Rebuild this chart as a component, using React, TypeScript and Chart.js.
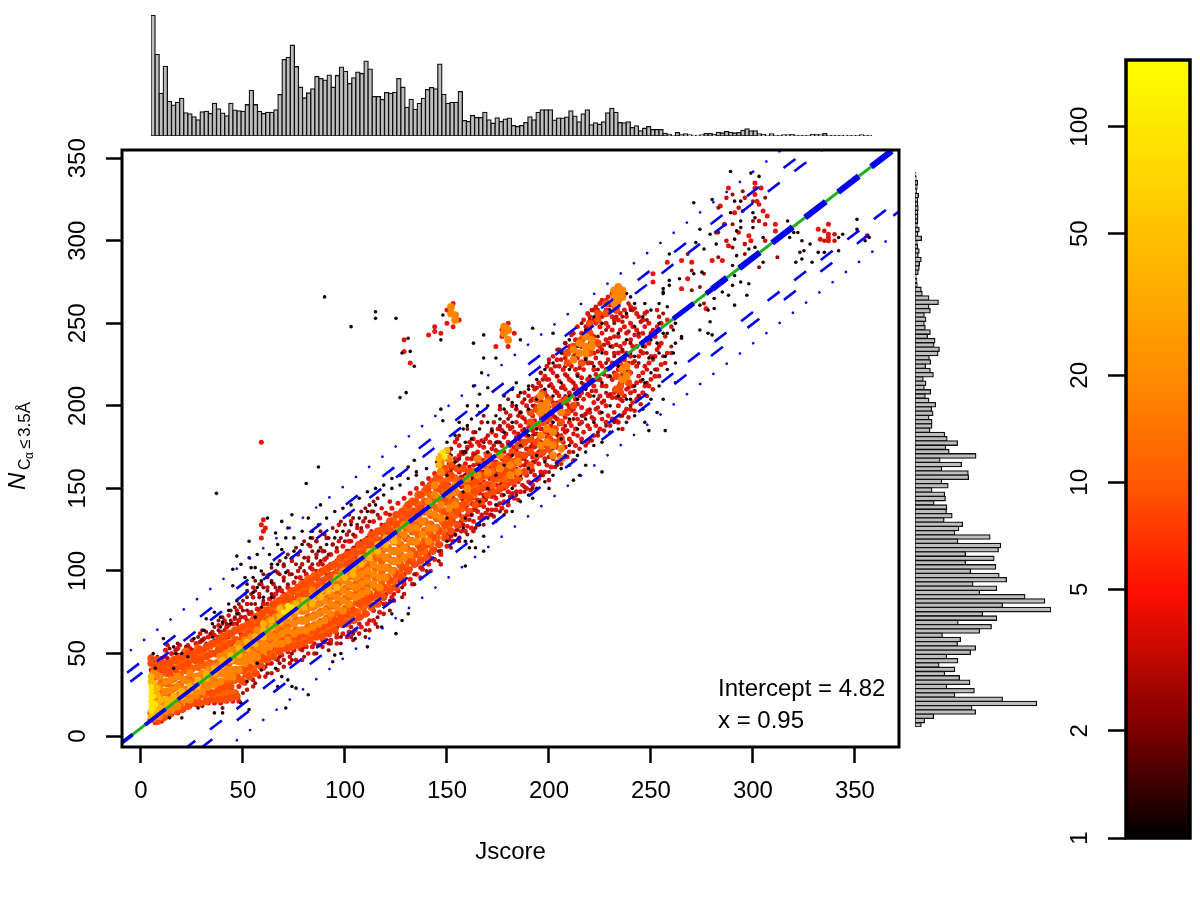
import React, { useEffect, useRef } from "react";
import { Chart, registerables } from "chart.js";
Chart.register(...registerables);

const FONT = "Liberation Sans";

// histograms (bar lengths)
const topHist = [359,243,127,207,103,92,100,112,69,66,57,48,72,73,67,97,81,68,60,97,77,75,73,93,136,93,73,67,70,70,78,123,227,234,270,206,145,113,128,140,177,171,166,181,145,180,205,192,156,173,190,186,223,199,117,117,108,129,127,130,171,145,85,109,79,97,112,138,144,140,214,124,97,100,100,132,46,43,61,55,55,70,48,38,54,43,50,53,31,28,31,40,57,48,70,78,78,78,47,53,53,56,75,59,42,66,78,33,39,35,42,69,82,70,40,39,42,25,30,15,23,28,19,19,19,8,5,1,10,5,6,3,2,2,3,7,7,4,11,9,13,11,9,10,17,21,15,15,6,4,1,6,1,1,3,3,4,1,1,1,1,4,5,3,7,1,1,1,1,2,1,1,1,3,1,1];
const rightHist = [2,3,7,6,4,10,7,8,9,8,8,8,6,12,8,19,6,7,12,9,18,13,12,9,3,5,6,18,21,41,69,41,45,27,32,27,30,45,37,59,56,72,68,42,46,31,45,54,24,32,27,46,30,41,61,49,53,41,50,50,44,88,95,126,91,101,181,74,138,79,158,159,79,98,50,88,90,56,94,93,110,86,141,130,118,223,127,255,248,150,235,150,240,165,250,272,172,243,192,327,386,260,404,201,243,128,227,192,81,135,126,180,165,94,127,71,118,88,132,163,94,176,118,260,362,169,180,55,28,18];

// colour bar
const barTicks = [1, 2, 5, 10, 20, 50, 100];
const barStops: [number, string][] = [[0,"#000000"],[0.137,"#7a0000"],[0.319,"#ff1000"],[0.456,"#ff5a00"],[0.594,"#ff8c00"],[0.776,"#ffc000"],[0.914,"#ffe800"],[1,"#ffff00"]];

// regression + bound lines
const lineX = [-10, 372];
const centreY = [-4.7, 358.2];
const dashUp1 = [35.3, 398.2];
const dashUp2 = [28.3, 391.2];
const dashLo1 = [-37.7, 325.2];
const dashLo2 = [-44.7, 318.2];
const dotUp = [47.3, 410.2];
const dotLo = [-56.7, 306.2];
const centrePiecesX = [[-10, 90], [90, 190], [190, 280], [280, 372]];
const centrePiecesY = [[-4.7, 90.3], [90.3, 185.3], [185.3, 270.8], [270.8, 358.2]];

// scatter columns: [x, y, y, ...], grouped by density colour
const yellowCols = [[5,15,18,21,24,27,30],[6,16,20,24],[7,19],[70,75],[72,76,79],[74,78],[148,172],[149,169]];
const amberCols = [[5,12,33,36],[6,13,28,32],[8,16,20,25,29],[10,17,22],[13,19,22],[16,21,24],[20,24,27],[24,27,30],[28,30,34],[32,35,38],[36,38,41],[40,43,46],[44,46,49],[48,49,53],[52,53,57],[56,56,60],[60,60,64,68],[64,66,70],[68,69,73,77],[72,73,74],[76,76,80],[80,82,78],[84,80,84],[88,84,88],[92,88,92],[96,90,96],[100,96,100],[104,102,98],[108,108,104],[112,108,112],[116,112,116],[120,116,120],[124,118],[146,164,168],[147,170],[150,173]];
const orangeCols = [[6,11,17,24,38],[9,12,18,24,30,36],[12,15,21,27,33],[15,16,22,28,34],[18,18,24,30,36],[21,22,28,34],[24,22,26,32,38],[27,25,30,36],[30,27,32,38],[33,30,34,40],[36,31,36,42],[39,33,38,44,48],[42,36,40,46,50],[45,36,40,46,52],[48,40,45,50,56],[51,44,48,54,58],[54,46,50,56,60],[57,48,54,60,64],[60,52,56,62,66],[63,54,60,64,70],[66,56,60,66,72],[69,56,62,68,72,78],[72,58,64,70,76],[75,62,68,74,80],[78,64,70,76,82],[81,64,70,76,82],[84,66,72,78,84,88],[87,68,74,80,86],[90,70,76,82,88],[93,74,80,86,92],[96,78,84,90,96],[99,76,82,88,94,100],[102,80,86,92,98],[105,84,90,96,102],[108,86,92,98,106],[111,88,94,100,108],[114,92,98,104,112],[117,90,96,102,110,116],[120,96,102,108,114],[123,100,106,112,120],[126,106,112,118,124],[129,108,114,122,128],[132,110,118,126],[135,118,126,132],[138,122,130],[141,118,126,136,142],[144,126,134,146,152],[147,132,140,160,166],[151,138,146,168],[154,140,148,152],[160,150,156],[165,158,168],[170,160,166],[176,162,170],[181,158,164],[185,160,166],[196,176,182,196,200,206],[199,178,186,198,202],[202,170,176,184],[206,168,174,196],[212,228,234],[215,232,238],[218,232,236,242],[221,236,240],[232,262,266,270],[234,264,268,272],[236,216,222,266,270],[238,218,224],[152,256,260],[154,252,255],[178,244,248],[180,240,246]];
const orangeRedCols = [[5,10,14,44,47],[8,9,42,46],[11,11,40,44],[14,13,38,44],[17,15,40,46],[20,16,42,48],[23,18,44,50],[26,20,46,50],[29,20,26,46,52],[32,21,27,48,54],[35,22,26,50,56],[38,22,28,52,58],[41,22,30,54,60],[44,23,30,56,62],[47,24,36,58,64],[50,33,40,60,66],[53,36,42,62,68],[56,38,46,66,72],[59,42,48,68,74],[62,46,52,70,76],[65,48,54,74,80],[68,51,56,76,82],[71,53,58,80,84],[74,54,60,82,88],[77,55,60,84,90],[80,56,62,86,92],[83,58,64,88,94],[86,60,64,90,96],[89,60,66,94,100],[92,62,68,96,102],[95,64,70,98,104],[98,68,72,102,108],[101,68,74,104,110],[104,70,76,106,112],[107,72,80,110,116],[110,74,82,112,118],[113,78,84,116,122],[116,80,86,118,124],[119,84,90,120,126],[122,88,94,124,130],[125,90,98,128,134],[128,96,102,130,136],[131,100,106,134,140],[134,104,110,136,142],[137,106,114,138,146],[140,108,116,142,150],[143,112,120,142,154],[146,116,124,150,158],[149,120,128,136,144,152,162],[152,124,130,158,164],[155,128,136,162],[158,132,140,146,162],[161,136,144,152,160],[164,140,148,154],[167,142,150,158,164],[170,146,152,170],[173,148,156,164],[176,150,158],[179,152,160,168],[182,154,162,172],[185,156,170,176],[188,160,170,178],[191,164,172,180,190,196],[194,170,178,188,198,204],[197,172,190,194,208],[200,174,180,192,204],[203,178,186,200],[206,180,190,202],[209,196,204,226,232],[212,200,236],[216,226,240],[220,232,244,250],[224,238,252,256],[228,256,262],[233,210,218,258],[235,212,208,224],[239,214,220]];
const fillCols = [[7,12,18,24,30,36,41],[10,14,20,26,32,38],[13,14,20,26,32,38,43],[16,17,23,29,35,41,46],[19,19,25,31,37,43,47],[22,22,28,34,40,46,51],[25,23,29,35,41,47],[28,24,30,36,42,48,53],[31,25,31,37,43,49],[34,26,32,38,44,50,55],[37,26,32,38,44,50,56],[40,26,32,38,44,50,56,60],[43,26,32,38,44,50,56,62],[46,26,34,40,46,52,58,64],[49,34,40,46,52,58,65],[52,38,44,50,56,62,67],[55,41,47,53,59,65,70],[58,44,50,56,62,68,73],[61,47,53,59,65,71,76],[64,50,56,62,68,74,78],[67,52,58,64,70,76,81],[70,54,60,66,72,78,84],[73,56,62,68,74,80,86],[76,58,64,70,76,82,88],[79,58,64,70,76,82,88,92],[82,60,66,72,78,84,90,95],[85,61,67,73,79,85,91,97],[88,63,69,75,81,87,93,99],[91,65,71,77,83,89,95,101],[94,67,73,79,85,91,97,103],[97,69,75,81,87,93,99,105],[100,71,77,83,89,95,101,107],[103,73,79,85,91,97,103,109],[106,75,81,87,93,99,105,112],[109,78,84,90,96,102,108,115],[112,80,86,92,98,104,110,118],[115,84,90,96,102,108,114,120],[118,88,94,100,106,112,118,124],[121,90,96,102,108,114,120,127],[124,94,100,106,112,118,124,130],[127,98,104,110,116,122,128,134],[130,102,108,114,120,126,132,138],[133,106,112,118,124,130,136,142],[136,110,116,122,128,134,140,146],[139,112,118,124,130,136,142,148],[142,116,122,128,134,140,146,152],[145,120,126,132,138,144,150,156],[148,124,130,136,142,148,154,160],[151,128,134,142,150,156],[154,134,142,148,156],[157,138,146,154],[160,142,148,154],[163,146,152,160],[166,150,156],[169,152,158,164],[172,152,160],[175,156,164],[178,156,164],[182,160,166]];
const redCols = [[5,40,44,48],[7,8,42,46],[10,9,44,47],[12,11,43,48,52],[15,13,40,45,50],[18,14,38,44,49,53],[21,16,40,45,51],[24,18,42,47,53],[27,19,45,51,56],[30,19,47,52,58],[33,20,22,48,54,60],[36,20,50,56,61],[39,20,23,52,58,63],[42,21,25,54,60,66],[45,21,27,50,57,62,68],[48,21,30,58,64,70],[51,32,37,60,66,72],[54,35,40,62,68,75],[57,38,43,64,70,77],[59,120,128,178],[60,41,46,68,74,80,124,131],[61,126],[63,44,49,72,77,83],[66,47,51,74,80,86],[69,49,54,76,82,88],[72,51,55,79,85,90],[75,52,56,82,87,93],[78,53,58,84,90,96],[81,54,59,86,92,98],[84,54,60,90,96,101],[87,55,61,93,99,104],[90,57,62,95,101,107],[93,58,64,98,104,110],[96,60,66,100,106,112],[99,62,67,103,109,115],[102,63,69,106,112,118],[105,64,70,108,114,121],[108,66,72,111,117,124],[111,68,74,114,120,127],[114,70,76,116,122,130],[117,75,81,119,125,132],[120,80,86,122,128,135],[123,84,90,125,131,138],[126,88,94,128,134,141],[129,92,98,131,137,144,233,240],[132,95,101,134,140,147,226],[135,98,104,137,143,150],[138,101,107,140,146,153],[141,104,110,143,149,156,243],[144,107,113,146,152,159,245,248],[147,110,116,150,156,163,244],[150,115,122,128,135,141,147,153,160,168,250,258],[153,118,124,131,138,144,150,157,165,248,262],[156,120,127,134,140,147,153,160,170,176,252],[159,124,131,138,145,151,158,165,172],[162,126,134,141,148,155,161,168,176],[165,128,136,143,150,158,165,172,178],[168,132,139,146,154,160,167,175],[171,134,141,149,156,163,170,178],[174,137,144,152,159,166,173,182,236],[177,138,146,154,161,168,176,185,242,246],[180,140,148,156,163,170,178,188,236,250],[183,144,152,160,167,175,184,244],[186,148,156,164,171,179,188,196],[189,150,158,166,174,182,190,200],[192,152,161,169,177,185,194,204],[195,156,165,172,180,188,196,206,214],[198,160,168,176,184,192,200,208,218],[201,163,171,180,188,196,204,213,222],[204,166,175,183,192,200,208,218,228],[207,168,178,186,195,204,212,222,232],[210,172,180,190,199,208,216,226,236],[213,176,186,195,204,212,222,232,240],[216,180,190,199,208,217,226,236,244],[219,178,188,197,207,216,226,236,248,256],[222,182,192,202,212,222,232,242,252,258],[225,186,196,206,216,226,236,248,256,262],[228,190,200,212,222,232,240,250,258,264],[231,192,205,216,226,236,246,254,262,268],[234,190,200,210,222,232,242,252,262,270],[237,196,206,216,228,238,248,258],[240,198,208,220,230,240,250,260],[243,204,214,224,236,246,256],[246,208,220,232,244,252],[249,212,226,238,250],[252,218,230,242],[255,225,238,250],[265,271,288],[251,275,280],[258,287],[268,277],[270,287],[280,288],[285,288],[288,297,332],[284,321],[291,317],[286,310],[298,303],[299,300],[301,328,332,335],[304,332],[302,324],[305,318],[307,315],[311,306,310],[333,301],[337,300,302,304,310],[332,307],[356,303],[277,259]];
const redExtraCols = [[151,119,126,133,139,146,152,158,165,172],[154,122,129,136,142,149,155,162,168,178],[157,124,130,137,144,151,157,163,172],[160,127,134,140,147,153,160,168,175],[163,130,137,144,151,157,164,171,180],[166,132,140,147,153,161,168,176],[169,135,143,150,157,164,171,180],[172,137,145,152,160,167,174,184],[175,140,148,156,163,170,178,186],[178,142,150,158,166,172,181,190],[181,145,153,161,168,176,186,194],[184,148,157,165,173,181,190,198],[187,152,160,168,176,185,193,202],[190,154,163,171,179,187,197,206],[193,158,166,175,183,191,200,210],[196,160,170,178,186,194,203,212,220],[199,164,173,181,190,198,206,216,224],[202,168,176,185,194,202,211,220,230],[205,170,180,189,198,206,215,224,234],[208,175,184,193,202,210,219,229,238],[211,178,188,197,206,215,224,234,243],[214,182,192,201,210,219,229,238,248],[217,184,194,204,213,222,232,242,252],[220,186,196,206,216,226,234,246,254],[223,188,198,209,219,229,239,250,260],[226,192,202,212,224,234,244,254,264],[229,194,206,218,228,238,248,258,266],[232,196,208,220,232,242,252,260],[235,194,204,214,226,236,246,256,268],[238,198,210,220,232,244,254],[241,202,212,226,236,248,258],[244,206,218,230,242,254],[247,212,224,236,248,256],[250,216,230,244],[253,222,234,248,258],[258,232,252]];
const redLooseCols = [[13,47,55],[17,52,46],[19,55],[23,55,49],[25,58,52],[29,57,62],[31,52,59],[35,56,63],[38,60,67],[41,64,70],[43,60,67,73],[46,64,71],[47,68,76],[49,62,72,78],[52,70,80,28],[53,65,74],[55,73,84,90,30,34],[58,76,86,36],[59,70,92],[61,36,42],[62,80,90,97],[64,38,44],[65,84,92],[67,78,88,99,40,46],[70,86,96,103,42,46],[73,88,98,44,48],[74,84,106],[76,46],[77,90,100,110],[79,94,104,46,52],[82,96,108,50],[83,92,102,115],[85,50,56],[86,100,110,118],[89,104,112,54,58],[91,98,108,120],[93,56],[94,104,116],[96,56,62],[97,108,118,128],[101,112,122,60],[103,108,118,130,60,66],[106,116,126],[107,62,68],[109,118,130],[112,64,70],[113,124,136],[115,68],[118,128,138],[119,74,80],[122,134,142],[124,82,86],[129,86,94],[133,92],[137,96,102],[142,100,108],[147,104,112],[152,121,135,147,162,174],[155,125,139,155,167,180],[158,128,143,157,171],[161,131,147,163,178],[163,124,140,155,170,184],[167,134,149,163,179,190],[170,137,153,168,182],[173,133,146,161,176,190],[176,141,156,172,186,198],[179,136,151,166,183,196],[182,147,159,173,187,200],[185,143,154,169,183,194,206],[188,151,164,178,192,208],[191,149,160,175,189,203],[194,155,168,183,197,211],[197,158,171,186,202,216],[200,155,169,183,199,216,228],[203,163,177,193,209,224],[206,165,182,199,211,228],[209,169,185,201,218,233],[212,167,183,198,214,230,244],[215,174,189,206,223,240],[218,176,195,211,229,248],[221,179,193,209,226,243,258],[224,182,199,216,233,251],[227,185,203,219,237,255],[230,188,207,223,241,261],[233,191,205,219,237,254,268],[236,186,203,219,233,251],[239,193,211,226,245,262],[242,197,209,227,243,259],[245,201,215,233,251],[248,206,222,241,257],[251,210,228,246],[254,218,236,254],[257,226,242],[260,232,248],[293,320,305],[296,326,298],[303,322,312],[287,326,300],[282,305],[306,300,310],[340,304,300],[335,300,306]];
const darkRedCols = [[8,48],[14,53],[18,56],[22,48,54],[28,54,60],[30,18],[32,56,63],[36,58,66],[40,17,60,68,72],[44,62,70,76],[48,66,74,80],[50,26,32],[52,68,76,84,88],[56,32,38,72,80,88,94],[60,74,82,90,98],[62,38,44],[64,78,86,94,102],[68,44,48,82,90,98,106],[72,84,92,100,110],[74,46,50],[76,88,96,104,114],[80,48,54,92,100,108,118],[84,96,104,112,120],[86,50],[88,98,106,114,124],[92,52,56,102,110,120],[96,106,114,124],[98,56,60],[100,110,118,128],[104,58,62,114,122,132],[108,118,126,136],[110,60,64],[112,122,130,140],[116,66,72,124,134,144],[122,76,82],[128,84,90],[134,92,98],[140,100,106],[146,106,112],[152,114,128,144,160,174],[156,118,136,152,168,182],[160,122,142,156,174,186],[164,126,138,152,170,184],[168,128,144,160,178,194],[172,134,150,168,186],[176,136,152,170,188,200],[180,142,158,176,192,204],[184,146,162,180,198],[188,148,168,186,204],[192,150,166,182,200,212],[196,158,174,192,208,220],[200,160,178,196,212,226],[204,164,182,202,218,234],[208,170,188,206,224,238],[212,172,192,210,228],[216,178,194,214,232,250],[220,180,198,218,238,252],[224,184,204,222,242,258],[228,188,208,226,246,262],[232,190,210,230,250],[236,194,214,234,254],[240,200,220,238,258],[244,206,226,244],[248,214,232,252],[252,222,244],[256,230,256],[260,236],[270,270,282],[276,262,280],[283,290,305,320],[290,296,310,328],[295,318,330],[300,312,324],[306,326],[296,292],[303,284],[312,290],[268,292],[274,272],[30,58,64],[34,62],[38,64,70],[42,68],[46,72,78],[50,76,82],[54,80,86],[58,84,92],[62,88,96],[66,90,100],[70,94,104],[74,98,108],[78,102,112],[82,106,116],[86,108,118],[90,112,122],[94,116,126],[98,120,130],[102,124,134],[106,128],[110,132,138],[114,136,142]];
const blackCols = [[6,50],[7,38,41],[11,59],[14,11],[16,41,54],[17,50],[20,11,50],[23,48],[28,17],[32,71],[36,14,75],[37,147],[40,14,69],[44,68],[45,91,101],[47,109],[49,20,104],[52,33,92],[53,16,108,118],[54,102],[55,87],[56,72,102],[57,44,90,110],[59,40],[60,84],[62,132],[64,84,93,104],[66,41,123],[67,30],[69,36,113,130],[71,17,99,120],[72,34,126],[74,30,134],[76,29],[81,153],[82,25,132],[84,124],[87,163],[88,140],[90,266],[94,45],[95,49],[98,50],[103,248],[105,59],[111,54],[115,253,257],[118,66],[123,74],[125,62,253],[128,70,232],[130,208],[131,74,163,241],[132,233],[134,167,224],[127,205],[147,198,240],[148,191,255],[159,103,118,132,158,172,178],[160,200,188],[161,114],[163,238,212],[164,114],[165,200],[166,207],[167,220],[168,112,121,229,243],[170,211],[172,185],[174,229],[178,134,146,164,184,198,206,249],[150,118,132,158,172,178],[154,122,140,166,182],[158,126,148,172,186],[162,118,134,156,180,192],[166,128,142,164,186,196],[170,132,150,172,190,200],[174,130,140,158,178,194],[182,136,150,170,190,202,210],[186,142,158,176,196,208,240],[190,146,162,182,198,212,210],[192,144,247],[194,150,170,186,204,216],[198,154,166,178,194,210,222],[200,150],[202,158,174,190,206,226,244],[206,162,180,198,214,232],[210,164,176,192,206,222,240],[212,155],[214,170,186,204,218,236],[215,158],[218,164,172,192,210,228,246],[222,176,190,206,224,240,254],[226,160,178,196,214,232,250],[230,184,200,218,236,258],[234,186,206,224,244,264],[238,190,204,222,240,256,268],[242,194,212,230,248,262],[246,198,216,236,254],[249,185,229],[250,204,220,240,258],[251,229],[254,212,232,250,262],[256,269,271,268],[257,185,230],[258,222,244,260],[259,276,273,292],[261,232,246],[262,226,250],[264,277],[265,242,241],[271,280,323],[272,299],[274,246,261,307],[275,281],[276,295],[278,244,258],[279,251,304],[280,243,325],[281,259,265],[282,298],[285,269],[288,267],[289,317,342],[290,273,285],[291,261,279,301,324],[292,291,306],[294,275,308,312,324],[297,267],[298,274,295],[299,341],[300,308,317],[301,296,314],[303,339],[305,287,302],[317,312],[318,302],[320,305],[321,287],[322,305],[323,293],[324,289,300],[325,294],[328,298],[329,287],[332,293],[335,293],[342,294,302],[344,304],[351,307,313],[355,300],[357,302],[26,59],[31,64],[35,68,60],[39,72,66],[43,76,80],[47,82,74],[51,86,96],[55,96],[59,94,100,78],[63,98,110],[67,104,116],[71,108],[75,112,120],[79,116,124],[83,120],[87,112,128],[91,116,132],[95,120,136],[99,124,138],[103,128,140],[107,132,144],[111,136,148],[115,140,150],[119,146,152],[123,150,156],[127,152,158],[131,156],[135,158,160],[140,162],[145,166],[152,148,170],[156,164,190],[176,192,178],[184,200,214],[240,204,232,266],[247,190,214,262],[253,196,238],[256,204,244],[262,214,238]];

const toPoints = (cols: number[][]) => cols.flatMap((c) => c.slice(1).map((y) => ({ x: c[0], y })));
const pairs = (ys: number[], xs: number[] = lineX) => ys.map((y, i) => ({ x: xs[i], y }));

const rotatedTicks = { minRotation: 90, maxRotation: 90, crossAlign: "center" as const };

const plotFurniture = {
  id: "plotFurniture",
  afterDraw(chart: any) {
    const { ctx, chartArea: a } = chart;
    ctx.save();
    ctx.strokeStyle = "#000";
    ctx.lineWidth = 3;
    ctx.strokeRect(a.left, a.top, a.right - a.left, a.bottom - a.top);
    ctx.fillStyle = "#000";
    ctx.textBaseline = "alphabetic";
    ctx.font = `24px "${FONT}"`;
    ctx.fillText("Intercept = 4.82", a.right - 181, a.bottom - 51);
    ctx.fillText("x = 0.95", a.right - 181, a.bottom - 19);
    ctx.translate(25, 490);
    ctx.rotate(-Math.PI / 2);
    ctx.font = `italic 24px "${FONT}"`;
    ctx.fillText("N", 0, 0);
    ctx.font = `16px "${FONT}"`;
    ctx.fillText("C", 20, 5);
    ctx.font = `12px "${FONT}"`;
    ctx.fillText("α", 31, 8);
    ctx.font = `17px "${FONT}"`;
    ctx.fillText("≤", 41, 5);
    ctx.fillText("3.5Å", 53, 5);
    ctx.restore();
  },
};

const scatterSet = (label: string, cols: number[][], color: string, r: number) => ({
  label, data: toPoints(cols), backgroundColor: color, borderWidth: 0, pointRadius: r, pointHoverRadius: r, showLine: false,
});
const lineSet = (label: string, data: any[], color: string, width: number, dash: number[], offset = 0, cap = "butt") => ({
  label, data, borderColor: color, borderWidth: width, borderDash: dash, borderDashOffset: offset, borderCapStyle: cap,
  pointRadius: 0, showLine: true, fill: false, tension: 0,
});

function useChart(make: (c: HTMLCanvasElement) => Chart) {
  const ref = useRef<HTMLCanvasElement>(null);
  useEffect(() => {
    const chart = make(ref.current!);
    return () => chart.destroy();
  }, []);
  return ref;
}

const place = (left: number, top: number, width: number, height: number): React.CSSProperties => ({ position: "absolute", left, top, width, height });

function makeMain(c: HTMLCanvasElement) {
  const BLUE = "#0000ee";
  const outerDash = [15, 31];
  const innerDash = [15, 18.5];
  const dots = [0.1, 16.6];
  const widths = [3.8, 4.3, 5, 6.2];
  const offsets = [10.7, 18.2, 25.7, 7.5];
  return new Chart(c, {
    type: "scatter",
    data: {
      datasets: [
        ...centrePiecesX.map((xs, i) => lineSet("centre", pairs(centrePiecesY[i], xs), BLUE, widths[i], [26, 15.6], offsets[i])),
        lineSet("fit", pairs(centreY), "#1fb01f", 3, []),
        lineSet("upper 1", pairs(dashUp1), BLUE, 2.6, outerDash, 37.8),
        lineSet("upper 2", pairs(dashUp2), BLUE, 2.6, innerDash, 21.15),
        lineSet("lower 1", pairs(dashLo1), BLUE, 2.6, innerDash, 21.3),
        lineSet("lower 2", pairs(dashLo2), BLUE, 2.6, outerDash, 37.3),
        lineSet("dot up", pairs(dotUp), BLUE, 2.6, dots, 3.8, "round"),
        lineSet("dot lo", pairs(dotLo), BLUE, 2.6, dots, 3.7, "round"),
        scatterSet("yellow", yellowCols, "#ffe600", 2.8),
        scatterSet("amber", amberCols, "#ffb400", 3.4),
        scatterSet("orange", orangeCols, "#ff8400", 3.9),
        scatterSet("black", blackCols, "#1a0404", 1.8),
        scatterSet("orange red", orangeRedCols, "#ff4a00", 3.8),
        scatterSet("fill", fillCols, "#ff6000", 4.2),
        scatterSet("dark red", darkRedCols, "#8e0808", 2),
        scatterSet("red loose", redLooseCols, "#c80f08", 2.3),
        scatterSet("red", redCols, "#e8140a", 2.5),
        scatterSet("red extra", redExtraCols, "#e0120a", 2.4),
      ] as any,
    },
    options: {
      responsive: false,
      animation: false,
      events: [],
      layout: { padding: { left: 0, right: 301, top: 150, bottom: 33 } },
      plugins: { legend: { display: false }, tooltip: { enabled: false } },
      scales: {
        x: {
          type: "linear", min: -9.3, max: 371.6,
          afterBuildTicks: (s: any) => { s.ticks = [0, 50, 100, 150, 200, 250, 300, 350].map((value) => ({ value })); },
          afterFit: (s: any) => { s.height = 120; },
          ticks: { color: "#000", font: { family: FONT, size: 24 }, padding: 14, maxRotation: 0 },
          grid: { display: true, drawOnChartArea: false, drawTicks: true, tickLength: 16, tickColor: "#000", tickWidth: 2.5 },
          border: { display: false },
          title: { display: true, text: "Jscore", color: "#000", font: { family: FONT, size: 24 }, padding: { top: 0, bottom: 0 } },
        },
        y: {
          type: "linear", min: -6.66, max: 355,
          afterBuildTicks: (s: any) => { s.ticks = [0, 50, 100, 150, 200, 250, 300, 350].map((value) => ({ value })); },
          afterFit: (s: any) => { s.width = 122; },
          ticks: { ...rotatedTicks, color: "#000", font: { family: FONT, size: 24 }, padding: 8 },
          grid: { display: true, drawOnChartArea: false, drawTicks: true, tickLength: 16, tickColor: "#000", tickWidth: 2.5 },
          border: { display: false },
        },
      },
    } as any,
    plugins: [plotFurniture],
  });
}

const histSet = (values: number[]) => ({
  data: values, backgroundColor: "#bebebe", borderColor: "#111", borderWidth: 1.3, borderSkipped: false,
  barPercentage: 1, categoryPercentage: 1, inflateAmount: 0.65,
});

function makeTop(c: HTMLCanvasElement) {
  return new Chart(c, {
    type: "bar",
    data: { labels: topHist.map((_, i) => String(i)), datasets: [histSet(topHist)] as any },
    options: {
      responsive: false, animation: false, events: [],
      layout: { padding: 2 },
      plugins: { legend: { display: false }, tooltip: { enabled: false } },
      scales: { x: { display: false }, y: { display: false, min: 0, max: 360 } },
    } as any,
  });
}

function makeRight(c: HTMLCanvasElement) {
  return new Chart(c, {
    type: "bar",
    data: { labels: rightHist.map((_, i) => String(i)), datasets: [histSet(rightHist)] as any },
    options: {
      indexAxis: "y",
      responsive: false, animation: false, events: [],
      layout: { padding: 2 },
      plugins: { legend: { display: false }, tooltip: { enabled: false } },
      scales: { y: { display: false }, x: { display: false, min: 0, max: 405 } },
    } as any,
  });
}

function makeBar(c: HTMLCanvasElement) {
  return new Chart(c, {
    type: "bar",
    data: {
      labels: ["density"],
      datasets: [{
        data: [[1, 154]],
        barPercentage: 1, categoryPercentage: 1, borderWidth: 0, borderSkipped: false,
        backgroundColor: (ctx: any) => {
          const a = ctx.chart.chartArea;
          if (!a) return "#000";
          const g = ctx.chart.ctx.createLinearGradient(0, a.bottom, 0, a.top);
          barStops.forEach(([p, col]) => g.addColorStop(p, col));
          return g;
        },
      }] as any,
    },
    options: {
      responsive: false, animation: false, events: [],
      layout: { padding: { top: 60, bottom: 62, right: 10, left: 0 } },
      plugins: { legend: { display: false }, tooltip: { enabled: false } },
      scales: {
        x: { display: false },
        y: {
          type: "logarithmic", min: 1, max: 154,
          afterBuildTicks: (s: any) => { s.ticks = barTicks.map((value) => ({ value })); },
          afterFit: (s: any) => { s.width = 76; },
          ticks: { ...rotatedTicks, color: "#000", font: { family: FONT, size: 24 }, padding: 8, callback: (v: any) => String(v) },
          grid: { display: true, drawOnChartArea: false, drawTicks: true, tickLength: 18, tickColor: "#000", tickWidth: 2.5 },
          border: { display: false },
        },
      },
    } as any,
    plugins: [{
      id: "barFrame",
      afterDraw(chart: any) {
        const { ctx, chartArea: a } = chart;
        ctx.save();
        ctx.strokeStyle = "#000";
        ctx.lineWidth = 3.5;
        ctx.strokeRect(a.left, a.top, a.right - a.left, a.bottom - a.top);
        ctx.restore();
      },
    }],
  });
}

export default function App() {
  const main = useChart(makeMain);
  const top = useChart(makeTop);
  const right = useChart(makeRight);
  const bar = useChart(makeBar);
  return (
    <div style={{ position: "absolute", left: 0, top: 0, width: 1200, height: 900, background: "#fff", overflow: "hidden" }}>
      <canvas ref={main} width={1200} height={900} style={place(0, 0, 1200, 900)} />
      <canvas ref={top} width={725} height={125} style={place(148.5, 13, 725, 125)} />
      <canvas ref={right} width={140} height={559} style={place(913, 170, 140, 559)} />
      <canvas ref={bar} width={150} height={900} style={place(1050, 0, 150, 900)} />
    </div>
  );
}
